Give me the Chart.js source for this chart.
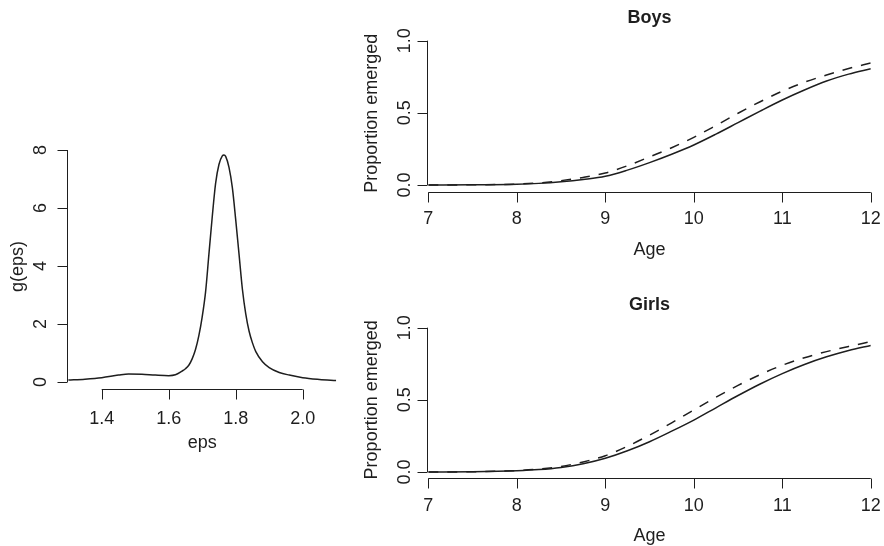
<!DOCTYPE html>
<html>
<head>
<meta charset="utf-8">
<title>Emergence</title>
<script src="https://cdn.jsdelivr.net/npm/chart.js@4.4.1/dist/chart.umd.min.js"></script>
<style>
  html, body { margin: 0; padding: 0; background: #fff; }
  #wrap { position: relative; width: 884px; height: 546px; }
  #wrap canvas { position: absolute; left: 0; top: 0; }
</style>
</head>
<body>
<div id="wrap">
  <canvas id="chartDensity" width="884" height="546"></canvas>
  <canvas id="chartBoys" width="884" height="546"></canvas>
  <canvas id="chartGirls" width="884" height="546"></canvas>
</div>
<script>
// density of eps
const epsValues = [1.30, 1.35, 1.40, 1.45, 1.48, 1.52, 1.56, 1.60, 1.62, 1.64, 1.65, 1.66, 1.67, 1.68, 1.69,
  1.70, 1.71, 1.72, 1.73, 1.74, 1.75, 1.76, 1.765, 1.77, 1.78, 1.79, 1.80, 1.81, 1.82, 1.83, 1.84,
  1.85, 1.86, 1.88, 1.90, 1.93, 1.96, 2.00, 2.05, 2.10];
const gValues = [0.07, 0.10, 0.15, 0.24, 0.28, 0.27, 0.24, 0.22, 0.25, 0.38, 0.46, 0.58, 0.80, 1.12, 1.60,
  2.25, 3.10, 4.40, 5.70, 6.85, 7.50, 7.80, 7.83, 7.78, 7.40, 6.70, 5.60, 4.40, 3.20, 2.35, 1.75,
  1.35, 1.05, 0.70, 0.50, 0.33, 0.24, 0.15, 0.09, 0.05];

// proportion emerged by age
const ages = [7, 7.5, 8, 8.25, 8.5, 8.75, 9, 9.25, 9.5, 9.75, 10, 10.25, 10.5, 10.75, 11, 11.25, 11.5, 11.75, 12];
const boysSolid  = [0, 0.001, 0.005, 0.011, 0.022, 0.038, 0.060, 0.103, 0.155, 0.213, 0.277, 0.352, 0.432, 0.512, 0.589, 0.658, 0.720, 0.768, 0.806];
const boysDashed = [0, 0.001, 0.006, 0.014, 0.030, 0.052, 0.083, 0.133, 0.195, 0.258, 0.330, 0.412, 0.497, 0.577, 0.650, 0.712, 0.762, 0.807, 0.845];
const girlsSolid  = [0, 0.002, 0.009, 0.017, 0.032, 0.057, 0.095, 0.147, 0.210, 0.283, 0.360, 0.445, 0.530, 0.610, 0.682, 0.745, 0.798, 0.842, 0.877];
const girlsDashed = [0, 0.002, 0.010, 0.020, 0.039, 0.070, 0.113, 0.178, 0.256, 0.341, 0.430, 0.518, 0.600, 0.675, 0.740, 0.792, 0.834, 0.870, 0.903];

// axis ticks
const epsTicks = [1.4, 1.6, 1.8, 2.0];
const epsTickLabels = ['1.4', '1.6', '1.8', '2.0'];
const gTicks = [0, 2, 4, 6, 8];
const gTickLabels = ['0', '2', '4', '6', '8'];
const ageTicks = [7, 8, 9, 10, 11, 12];
const ageTickLabels = ['7', '8', '9', '10', '11', '12'];
const propTicks = [0, 0.5, 1];
const propTickLabels = ['0.0', '0.5', '1.0'];

const INK = '#1e1e1e';
const FONT = '"Liberation Sans", Arial, Helvetica, sans-serif';
const TICK = 10;

function pts(xs, ys) {
  return xs.map((x, i) => ({ x, y: ys[i] }));
}

// base-graphics style axes: line only spans first..last tick, rotated y labels
function rAxes(o) {
  return {
    id: 'rAxes',
    afterDraw(chart) {
      const { ctx, chartArea: a, scales: { x, y } } = chart;
      ctx.save();
      ctx.strokeStyle = INK;
      ctx.fillStyle = INK;
      ctx.lineWidth = 1;

      const yb = Math.round(a.bottom) + 0.5;
      const xl = Math.round(a.left) - 0.5;
      ctx.beginPath();
      ctx.moveTo(x.getPixelForValue(o.xTicks[0]), yb);
      ctx.lineTo(x.getPixelForValue(o.xTicks[o.xTicks.length - 1]), yb);
      o.xTicks.forEach(v => {
        const px = Math.round(x.getPixelForValue(v)) + 0.5;
        ctx.moveTo(px, yb);
        ctx.lineTo(px, yb + TICK);
      });
      ctx.moveTo(xl, y.getPixelForValue(o.yTicks[0]));
      ctx.lineTo(xl, y.getPixelForValue(o.yTicks[o.yTicks.length - 1]));
      o.yTicks.forEach(v => {
        const py = Math.round(y.getPixelForValue(v)) + 0.5;
        ctx.moveTo(xl, py);
        ctx.lineTo(xl - TICK, py);
      });
      ctx.stroke();

      ctx.font = '18px ' + FONT;
      ctx.textAlign = 'center';
      ctx.textBaseline = 'alphabetic';
      o.xTicks.forEach((v, i) => {
        ctx.fillText(o.xLabels[i], x.getPixelForValue(v), a.bottom + o.xLabelGap);
      });
      ctx.fillText(o.xTitle, (a.left + a.right) / 2, a.bottom + o.xTitleGap);

      o.yTicks.forEach((v, i) => {
        ctx.save();
        ctx.translate(a.left - o.yLabelGap, y.getPixelForValue(v));
        ctx.rotate(-Math.PI / 2);
        ctx.fillText(o.yLabels[i], 0, 0);
        ctx.restore();
      });
      ctx.save();
      ctx.translate(a.left - o.yTitleGap, (a.top + a.bottom) / 2);
      ctx.rotate(-Math.PI / 2);
      ctx.fillText(o.yTitle, 0, 0);
      ctx.restore();

      if (o.title) {
        ctx.font = 'bold 18px ' + FONT;
        ctx.fillText(o.title, (a.left + a.right) / 2, a.top - o.titleGap);
      }
      ctx.restore();
    }
  };
}

function lineSet(data, dashed) {
  return {
    data,
    borderColor: INK,
    borderWidth: 1.5,
    borderDash: dashed ? [10, 9] : [],
    pointRadius: 0,
    fill: false,
    cubicInterpolationMode: 'monotone'
  };
}

function makeChart(id, datasets, area, xr, yr, axes) {
  return new Chart(document.getElementById(id), {
    type: 'line',
    data: { datasets },
    options: {
      responsive: false,
      animation: false,
      events: [],
      layout: {
        padding: { left: area.left, top: area.top, right: 884 - area.right, bottom: 546 - area.bottom }
      },
      scales: {
        x: { type: 'linear', min: xr[0], max: xr[1], display: false },
        y: { type: 'linear', min: yr[0], max: yr[1], display: false }
      },
      plugins: { legend: { display: false }, tooltip: { enabled: false } }
    },
    plugins: [rAxes(axes)]
  });
}

makeChart('chartDensity',
  [lineSet(pts(epsValues, gValues), false)],
  { left: 68.2, right: 336.2, top: 144.2, bottom: 389 },
  [1.3, 2.1], [-0.24, 8.2],
  { xTicks: epsTicks, xLabels: epsTickLabels, yTicks: gTicks, yLabels: gTickLabels,
    xTitle: 'eps', yTitle: 'g(eps)', xLabelGap: 35, xTitleGap: 59, yLabelGap: 22, yTitleGap: 45 });

makeChart('chartBoys',
  [lineSet(pts(ages, boysSolid), false), lineSet(pts(ages, boysDashed), true)],
  { left: 428.3, right: 870.8, top: 34.9, bottom: 191.6 },
  [7, 12], [-0.046, 1.04],
  { xTicks: ageTicks, xLabels: ageTickLabels, yTicks: propTicks, yLabels: propTickLabels,
    xTitle: 'Age', yTitle: 'Proportion emerged', title: 'Boys',
    xLabelGap: 32.5, xTitleGap: 63, yLabelGap: 18.5, yTitleGap: 51.3, titleGap: 12 });

makeChart('chartGirls',
  [lineSet(pts(ages, girlsSolid), false), lineSet(pts(ages, girlsDashed), true)],
  { left: 428.3, right: 870.8, top: 321.9, bottom: 477.8 },
  [7, 12], [-0.04, 1.04],
  { xTicks: ageTicks, xLabels: ageTickLabels, yTicks: propTicks, yLabels: propTickLabels,
    xTitle: 'Age', yTitle: 'Proportion emerged', title: 'Girls',
    xLabelGap: 33, xTitleGap: 63, yLabelGap: 18.5, yTitleGap: 51.3, titleGap: 11.5 });
</script>
</body>
</html>
